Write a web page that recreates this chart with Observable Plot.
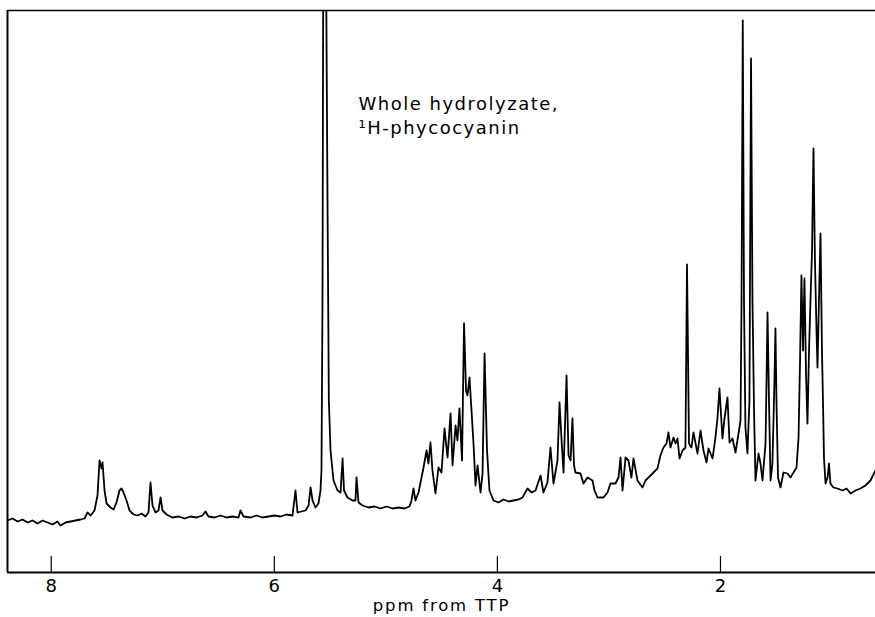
<!DOCTYPE html>
<html>
<head>
<meta charset="utf-8">
<script src="https://cdn.jsdelivr.net/npm/d3@7"></script>
<script src="https://cdn.jsdelivr.net/npm/@observablehq/plot@0.6"></script>
<style>
  html, body { margin: 0; padding: 0; background: #fff; }
  #chart svg { display: block; }
</style>
</head>
<body>
<div id="chart"></div>
<script>
// Chemical shift (ppm from TTP), left to right
const ppm = [
  8.392, 8.347, 8.302, 8.257, 8.212, 8.168, 8.123, 8.078, 8.033, 7.988,
  7.944, 7.917, 7.872, 7.827, 7.782, 7.737, 7.701, 7.675, 7.648, 7.612,
  7.585, 7.567, 7.549, 7.540, 7.522, 7.504, 7.468, 7.441, 7.415, 7.388,
  7.370, 7.352, 7.325, 7.298, 7.262, 7.226, 7.190, 7.155, 7.128, 7.110,
  7.092, 7.065, 7.038, 7.020, 7.002, 6.966, 6.913, 6.859, 6.805, 6.751,
  6.697, 6.644, 6.617, 6.590, 6.536, 6.482, 6.428, 6.375, 6.321, 6.303,
  6.276, 6.213, 6.160, 6.106, 6.052, 5.998, 5.944, 5.891, 5.837, 5.810,
  5.792, 5.756, 5.720, 5.693, 5.675, 5.657, 5.631, 5.604, 5.586, 5.577,
  5.568, 5.559, 5.541, 5.523, 5.511, 5.496, 5.469, 5.433, 5.406, 5.388,
  5.375, 5.344, 5.299, 5.272, 5.263, 5.245, 5.209, 5.155, 5.102, 5.048,
  4.994, 4.940, 4.886, 4.833, 4.788, 4.770, 4.752, 4.734, 4.707, 4.689,
  4.662, 4.635, 4.618, 4.600, 4.582, 4.555, 4.528, 4.501, 4.474, 4.447,
  4.420, 4.402, 4.375, 4.358, 4.340, 4.317, 4.299, 4.281, 4.268, 4.250,
  4.232, 4.214, 4.196, 4.178, 4.151, 4.133, 4.115, 4.093, 4.071, 4.035,
  3.990, 3.945, 3.900, 3.856, 3.811, 3.775, 3.730, 3.694, 3.658, 3.613,
  3.587, 3.551, 3.524, 3.497, 3.461, 3.443, 3.421, 3.407, 3.380, 3.362,
  3.344, 3.327, 3.313, 3.300, 3.255, 3.228, 3.192, 3.147, 3.129, 3.102,
  3.049, 3.013, 2.986, 2.941, 2.914, 2.896, 2.878, 2.851, 2.825, 2.798,
  2.780, 2.744, 2.699, 2.672, 2.645, 2.600, 2.565, 2.538, 2.511, 2.484,
  2.466, 2.448, 2.421, 2.403, 2.385, 2.367, 2.340, 2.314, 2.300, 2.282,
  2.260, 2.242, 2.206, 2.179, 2.152, 2.125, 2.107, 2.071, 2.045, 2.027,
  2.009, 1.982, 1.964, 1.937, 1.919, 1.892, 1.865, 1.838, 1.820, 1.811,
  1.800, 1.789, 1.776, 1.758, 1.740, 1.726, 1.713, 1.699, 1.686, 1.659,
  1.641, 1.623, 1.596, 1.587, 1.578, 1.565, 1.551, 1.534, 1.516, 1.507,
  1.498, 1.484, 1.462, 1.435, 1.399, 1.372, 1.345, 1.318, 1.300, 1.287,
  1.274, 1.260, 1.247, 1.233, 1.220, 1.206, 1.193, 1.179, 1.166, 1.153,
  1.139, 1.130, 1.117, 1.103, 1.090, 1.081, 1.072, 1.058, 1.040, 1.027,
  1.014, 0.987, 0.951, 0.906, 0.870, 0.834, 0.789, 0.745, 0.700, 0.655,
  0.610
];

// Signal intensity (arbitrary units), same order
const intensity = [
  52, 54, 51, 53, 50, 52, 49, 52, 50, 48,
  51, 47, 50, 51, 52, 53, 54, 60, 57, 62,
  77, 112, 104, 110, 82, 69, 65, 63, 70, 82,
  84, 80, 72, 62, 58, 57, 59, 56, 60, 90,
  67, 60, 62, 75, 62, 58, 55, 56, 54, 56,
  55, 57, 61, 56, 55, 57, 55, 56, 55, 62,
  56, 55, 57, 55, 56, 57, 56, 58, 57, 82,
  60, 61, 62, 67, 85, 72, 65, 69, 82, 102,
  272, 700, 700, 372, 172, 122, 92, 82, 80, 114,
  82, 75, 72, 72, 95, 70, 67, 65, 66, 64,
  66, 64, 65, 64, 66, 72, 84, 72, 80, 90,
  105, 122, 109, 130, 102, 79, 105, 100, 144, 115,
  159, 107, 147, 132, 164, 112, 249, 182, 177, 195,
  162, 129, 87, 107, 80, 99, 219, 122, 82, 72,
  70, 73, 71, 72, 73, 75, 84, 80, 82, 97,
  80, 90, 125, 89, 112, 170, 125, 100, 197, 117,
  112, 154, 107, 100, 99, 89, 95, 92, 82, 75,
  75, 80, 89, 89, 95, 115, 82, 115, 112, 95,
  114, 92, 85, 92, 95, 100, 104, 117, 125, 129,
  140, 125, 135, 129, 134, 114, 122, 125, 308, 129,
  125, 140, 119, 142, 122, 110, 124, 114, 135, 154,
  184, 134, 154, 175, 130, 134, 120, 139, 152, 272,
  552, 272, 145, 119, 172, 514, 272, 162, 92, 119,
  109, 92, 129, 192, 260, 172, 92, 109, 192, 244,
  172, 95, 85, 100, 99, 95, 100, 105, 135, 209,
  297, 222, 294, 199, 149, 222, 272, 322, 424, 312,
  242, 205, 272, 339, 222, 172, 115, 89, 95, 109,
  89, 85, 84, 82, 84, 79, 82, 84, 87, 92,
  102
];

const tickValues = [8, 6, 4, 2];
const xDomain = [8.392, 0.61];
const yDomain = [0, 562];
const annotationLines = ["Whole hydrolyzate,", "\u00B9H-phycocyanin"];
const annotationAt = {ppm: 5.245, intensity: 439};
const axisTitle = "ppm from TTP";

const spectrum = ppm.map((p, i) => ({ppm: p, intensity: intensity[i]}));

const font = "'DejaVu Sans', sans-serif";

const chart = Plot.plot({
  width: 875,
  height: 617,
  marginLeft: 7,
  marginRight: 0,
  marginTop: 10,
  marginBottom: 45,
  style: {background: "#fff", color: "#000", fontFamily: font},
  x: {domain: xDomain, label: null},
  y: {domain: yDomain, axis: null},
  marks: [
    // frame: left, top, bottom
    Plot.ruleX([xDomain[0]], {stroke: "#000", strokeWidth: 2}),
    Plot.ruleY([yDomain[1]], {stroke: "#000", strokeWidth: 1.6}),
    Plot.ruleY([yDomain[0]], {stroke: "#000", strokeWidth: 2}),
    // inward ticks
    Plot.ruleX(tickValues, {y1: 0, y2: 16, stroke: "#000", strokeWidth: 1.2}),
    Plot.axisX(tickValues, {
      tickSize: 0, tickPadding: 7, fontSize: 18, tickFormat: d => String(d),
      fontFamily: font, label: null
    }),
    Plot.line(spectrum, {
      x: "ppm", y: "intensity", stroke: "#000", strokeWidth: 1.8,
      strokeLinejoin: "round", clip: true
    }),
    Plot.text([annotationLines.join("\n")], {
      x: () => annotationAt.ppm, y: () => annotationAt.intensity,
      text: d => d, textAnchor: "start", lineAnchor: "bottom",
      fontSize: 18, lineHeight: 1.28, fill: "#000",
      fontFamily: font
    }),
    Plot.text([axisTitle], {
      frameAnchor: "bottom", dy: 38, lineAnchor: "bottom", text: d => d,
      fontSize: 16.5, fill: "#000", fontFamily: font
    })
  ]
});

document.getElementById("chart").appendChild(chart);
// letter spacing for texts
chart.querySelectorAll("text").forEach(t => {
  if (t.textContent === axisTitle) t.setAttribute("letter-spacing", "1.8");
  if (t.textContent.includes("hydrolyzate")) t.setAttribute("letter-spacing", "1.5");
});
</script>
</body>
</html>
